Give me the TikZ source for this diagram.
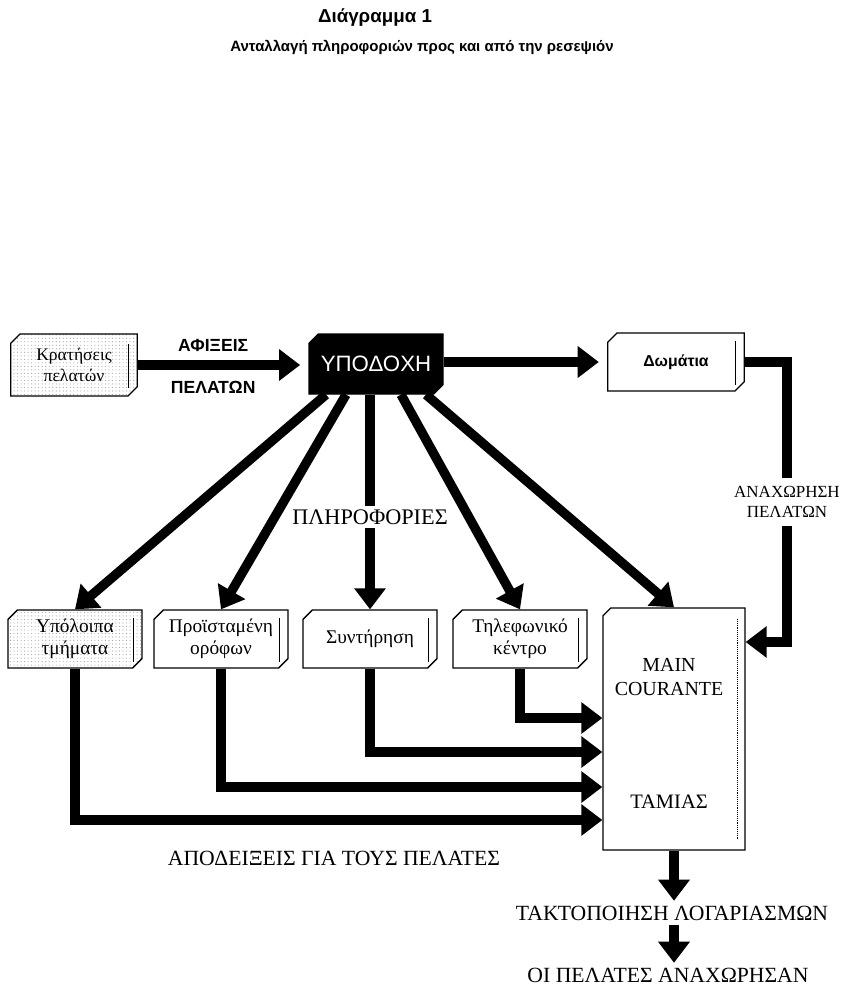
\documentclass[tikz,border=0pt]{standalone}
\usepackage{fontspec}
\setmainfont{Liberation Serif}
\newfontfamily\grsans{Liberation Sans}
\usepackage{tikz}
\usetikzlibrary{arrows.meta, positioning, shapes.misc, patterns, calc}

\newcommand{\sideface}[1]{\draw[line width=0.8pt] ([shift={(-8pt,18pt)}]#1.east) -- ([shift={(-8pt,-20pt)}]#1.east);}

\begin{document}
\begin{tikzpicture}[x=0.03cm, y=-0.03cm]
		\tikzstyle{crate}=[draw=black, line width=1.1pt, chamfered rectangle, chamfered rectangle corners={north west, south east}, chamfered rectangle xsep=4pt, chamfered rectangle ysep=4pt, minimum width=4.02cm, minimum height=1.74cm, align=center, inner sep=1pt, font=\fontsize{16.5}{19}\selectfont]
		\tikzstyle{speckled}=[pattern=dots, pattern color=black!35]
		\tikzstyle{flow}=[line width=8pt, -{Triangle[length=18pt, width=26pt]}]
		\tikzstyle{caption}=[font=\fontsize{18.5}{21}\selectfont, inner sep=1pt]
		\tikzstyle{arrowtext}=[font=\grsans\bfseries\fontsize{15}{17}\selectfont, inner sep=1pt]
		
		\useasboundingbox (0,0) rectangle (849,992);
		
		\node (title) at (375,18) [font=\grsans\bfseries\fontsize{16}{18}\selectfont] {Διάγραμμα 1};
		\node (subtitle) at (422,47) [font=\grsans\bfseries\fontsize{12.8}{15}\selectfont] {Ανταλλαγή πληροφοριών προς και από την ρεσεψιόν};
		
		% top row
		\node (kratiseis) at (74,365) [crate, speckled, minimum width=3.8cm, minimum height=1.86cm, font=\fontsize{15}{18}\selectfont] {Κρατήσεις\\πελατών};
		\node (ypodoxi) at (376,364) [crate, fill=black, text=white, minimum height=1.8cm, font=\grsans\fontsize{19}{21}\selectfont] {ΥΠΟΔΟΧΗ};
		\node (domatia) at (676,362) [crate, minimum width=4.1cm, font=\grsans\bfseries\fontsize{13.5}{15}\selectfont] {Δωμάτια};
		\sideface{kratiseis}
		\sideface{domatia}
		
		% second row
		\node (ypoloipa) at (75,639) [crate, speckled] {Υπόλοιπα\\τμήματα};
		\node (proistameni) at (221,639) [crate] {Προϊσταμένη\\ορόφων};
		\node (syntirisi) at (370,639) [crate] {Συντήρηση};
		\node (tilefoniko) at (520,639) [crate] {Τηλεφωνικό\\κέντρο};
		\sideface{ypoloipa}
		\sideface{proistameni}
		\sideface{syntirisi}
		\sideface{tilefoniko}
		
		\node (main) at (674,729) [draw=black, line width=1.1pt, chamfered rectangle, chamfered rectangle corners=north west, chamfered rectangle xsep=5pt, chamfered rectangle ysep=5pt, minimum width=4.26cm, minimum height=7.26cm] {};
		\draw[line width=0.6pt, densely dotted] ([shift={(-7pt,-10pt)}]main.north east) -- ([shift={(-7pt,10pt)}]main.south east);
		\node (courante) at (669,677) [font=\fontsize{17}{20}\selectfont, align=center] {MAIN\\COURANTE};
		\node (tamias) at (669,802) [font=\fontsize{17.5}{20}\selectfont] {ΤΑΜΙΑΣ};
		
		% arrows
		\draw[flow, shorten >=7pt] (kratiseis.east) -- (kratiseis.east -| ypodoxi.west)
			node[arrowtext, midway, xshift=-0.3cm, yshift=0.6cm] (afixeis) {ΑΦΙΞΕΙΣ}
			node[arrowtext, midway, xshift=-0.3cm, yshift=-0.66cm] (pelates) {ΠΕΛΑΤΩΝ};
		\draw[flow, shorten >=7pt] (ypodoxi.east |- domatia.west) -- (domatia.west);
		
		\draw[flow] ([xshift=-1.5cm]ypodoxi.south) -- (ypoloipa.north);
		\draw[flow] ([xshift=-0.9cm]ypodoxi.south) -- (proistameni.north);
		\draw[flow] (ypodoxi.south -| syntirisi.north) -- node[pos=0.57, fill=white, inner sep=3pt, font=\fontsize{19}{21}\selectfont] (plirofories) {ΠΛΗΡΟΦΟΡΙΕΣ} (syntirisi.north);
		\draw[flow] ([xshift=0.75cm]ypodoxi.south) -- (tilefoniko.north);
		\draw[flow] ([xshift=1.5cm]ypodoxi.south) -- (main.north);
		
		\draw[flow] (domatia.east) -- ++(1.26cm,0) |- node[pos=0.25, fill=white, inner xsep=1pt, inner ysep=7pt, align=center, font=\fontsize{14.5}{17}\selectfont] (anaxorisi) {ΑΝΑΧΩΡΗΣΗ\\ΠΕΛΑΤΩΝ} ([yshift=2.61cm]main.east);
		
		\draw[flow] (tilefoniko.south) |- ([yshift=0.33cm]main.west);
		\draw[flow] (syntirisi.south) |- ([yshift=-0.69cm]main.west);
		\draw[flow] (proistameni.south) |- ([yshift=-1.74cm]main.west);
		\draw[flow] (ypoloipa.south) |- ([yshift=-2.73cm]main.west);
		
		\node (apodeixeis) at (334,858) [caption] {ΑΠΟΔΕΙΞΕΙΣ ΓΙΑ ΤΟΥΣ ΠΕΛΑΤΕΣ};
		\node (taktopoiisi) at (672,913) [caption, inner ysep=4pt] {ΤΑΚΤΟΠΟΙΗΣΗ ΛΟΓΑΡΙΑΣΜΩΝ};
		\node (anaxorisan) at (668,975) [caption, inner ysep=4pt] {ΟΙ ΠΕΛΑΤΕΣ ΑΝΑΧΩΡΗΣΑΝ};
		
		\draw[flow] (main.south) -- (main.south |- taktopoiisi.north);
		\draw[flow] (main.south |- taktopoiisi.south) -- (main.south |- anaxorisan.north);
		
\end{tikzpicture}
\end{document}
